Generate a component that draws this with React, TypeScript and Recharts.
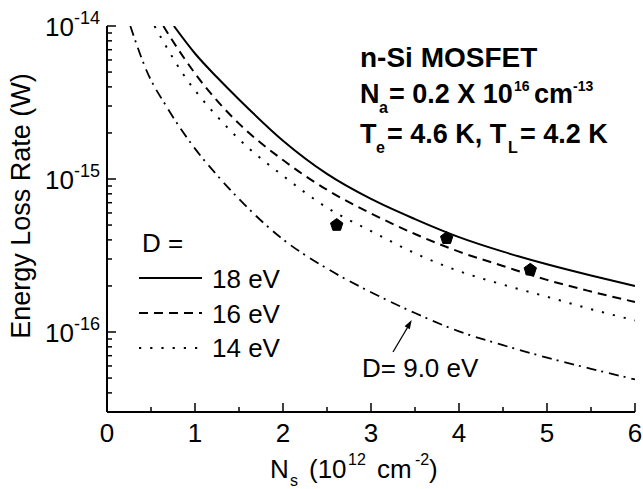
import React from 'react';
import { ComposedChart, Line, Scatter, XAxis, YAxis, Legend } from 'recharts';

const W = 643;
const H = 489;
const FONT = "'Liberation Sans', Arial, Helvetica, sans-serif";

// Axis ticks
const xTicks = [0, 0.5, 1, 1.5, 2, 2.5, 3, 3.5, 4, 4.5, 5, 5.5, 6];
const yTicks = [
  3e-17, 4e-17, 5e-17, 6e-17, 7e-17, 8e-17, 9e-17,
  1e-16, 2e-16, 3e-16, 4e-16, 5e-16, 6e-16, 7e-16, 8e-16, 9e-16,
  1e-15, 2e-15, 3e-15, 4e-15, 5e-15, 6e-15, 7e-15, 8e-15, 9e-15,
  1e-14,
];

// D = 18 eV (solid)
const ns18 = [0.76, 1.0, 1.25, 1.5, 2.0, 2.5, 3.0, 3.5, 4.0, 4.5, 5.0, 5.5, 6.0];
const elr18 = [1e-14, 6.61e-15, 4.62e-15, 3.31e-15, 1.78e-15, 1.08e-15, 7.41e-16, 5.47e-16, 4.17e-16, 3.35e-16, 2.77e-16, 2.34e-16, 2.0e-16];

// D = 16 eV (dashed)
const ns16 = [0.64, 0.74, 1.0, 1.5, 2.0, 2.5, 3.0, 3.5, 4.0, 4.5, 5.0, 5.5, 6.0];
const elr16 = [1e-14, 8.1e-15, 4.9e-15, 2.3e-15, 1.33e-15, 8.5e-16, 5.96e-16, 4.37e-16, 3.35e-16, 2.7e-16, 2.19e-16, 1.84e-16, 1.57e-16];

// D = 14 eV (dotted)
const ns14 = [0.54, 0.7, 0.87, 1.04, 1.25, 1.5, 2.0, 2.5, 3.0, 3.5, 4.0, 4.5, 5.0, 5.5, 6.0];
const elr14 = [1e-14, 6.9e-15, 4.8e-15, 3.55e-15, 2.57e-15, 1.82e-15, 1.05e-15, 6.5e-16, 4.57e-16, 3.27e-16, 2.5e-16, 2.04e-16, 1.7e-16, 1.41e-16, 1.19e-16];

// D = 9.0 eV (dash-dot)
const ns9 = [0.265, 0.45, 0.68, 1.0, 1.25, 1.5, 2.0, 2.5, 3.0, 3.5, 4.0, 4.5, 5.0, 5.5, 6.0];
const elr9 = [1e-14, 5.1e-15, 2.95e-15, 1.58e-15, 1.06e-15, 7.4e-16, 4.03e-16, 2.6e-16, 1.82e-16, 1.33e-16, 1.01e-16, 8.2e-17, 6.8e-17, 5.75e-17, 4.9e-17];

// Experimental points (pentagons)
const markerNs = [2.61, 3.86, 4.81];
const markerElr = [5.0e-16, 4.1e-16, 2.55e-16];

const legendNames = ['18 eV', '16 eV', '14 eV'];

const toData = (xs: number[], ys: number[]) => xs.map((x, i) => ({ x, y: ys[i] }));

const d18 = toData(ns18, elr18);
const d16 = toData(ns16, elr16);
const d14 = toData(ns14, elr14);
const d9 = toData(ns9, elr9);
const dMarkers = toData(markerNs, markerElr);

const DASH16 = '9 6';
const DOT14 = '2.2 9';
const DASHDOT9 = '10 5 2 6';

const isInt = (v: number) => Math.abs(v - Math.round(v)) < 1e-9;
const isDecade = (v: number) => {
  const l = Math.log10(v);
  return Math.abs(l - Math.round(l)) < 1e-6;
};

const BottomTick = (props: any) => {
  const { x, y, payload } = props;
  const v = payload.value as number;
  const major = isInt(v);
  return (
    <g>
      <line x1={x} y1={y} x2={x} y2={y - (major ? 9 : 5)} stroke="#000" strokeWidth={1.5} />
      {major && (
        <text x={x} y={y + 30} textAnchor="middle" fontSize={26} fontFamily={FONT} fill="#000">
          {String(Math.round(v))}
        </text>
      )}
    </g>
  );
};

const TopTick = (props: any) => {
  const { x, y, payload } = props;
  const major = isInt(payload.value);
  return <line x1={x} y1={y} x2={x} y2={y + (major ? 9 : 5)} stroke="#000" strokeWidth={1.5} />;
};

const LeftTick = (props: any) => {
  const { x, y, payload } = props;
  const v = payload.value as number;
  const major = isDecade(v);
  const exp = String(Math.round(Math.log10(v)));
  return (
    <g>
      <line x1={x} y1={y} x2={x + (major ? 9 : 5)} y2={y} stroke="#000" strokeWidth={1.5} />
      {major && (
        <text x={x - 7} y={y + 10} textAnchor="end" fontSize={26} fontFamily={FONT} fill="#000">
          <tspan>10</tspan>
          <tspan fontSize={18} dy={-12}>{exp}</tspan>
        </text>
      )}
    </g>
  );
};

const RightTick = (props: any) => {
  const { x, y, payload } = props;
  const major = isDecade(payload.value);
  return <line x1={x} y1={y} x2={x - (major ? 9 : 5)} y2={y} stroke="#000" strokeWidth={1.5} />;
};

const Pentagon = (props: any) => {
  const { cx, cy } = props;
  if (cx == null || cy == null) return null;
  const r = 6.5;
  const pts = [0, 1, 2, 3, 4]
    .map((i) => {
      const a = -Math.PI / 2 + (i * 2 * Math.PI) / 5;
      return `${cx + r * Math.cos(a)},${cy + r * Math.sin(a)}`;
    })
    .join(' ');
  return <polygon points={pts} fill="#000" stroke="#000" strokeWidth={1} />;
};

const LegendBox = () => {
  const styles = [undefined, DASH16, DOT14];
  const lineYs = [53, 88, 123];
  const textYs = [63, 98, 132];
  return (
    <svg width={180} height={140} style={{ display: 'block', overflow: 'visible' }}>
      <text x={12} y={27} fontSize={26} fontFamily={FONT} fill="#000">D =</text>
      {legendNames.map((n, i) => (
        <g key={n}>
          <line x1={9} y1={lineYs[i]} x2={72} y2={lineYs[i]} stroke="#000" strokeWidth={2} strokeDasharray={styles[i]} />
          <text x={82} y={textYs[i]} fontSize={26} fontFamily={FONT} fill="#000">{n}</text>
        </g>
      ))}
    </svg>
  );
};

export default function App() {
  const sub = 16;
  return (
    <div style={{ position: 'relative', width: W, height: H, background: '#fff' }}>
      <style>{`body{margin:0;background:#fff}`}</style>
      <ComposedChart width={W} height={H} margin={{ top: 26, right: 8, bottom: 0, left: 0 }}>
        <XAxis
          xAxisId="b"
          dataKey="x"
          type="number"
          domain={[0, 6]}
          ticks={xTicks}
          interval={0}
          allowDataOverflow
          height={77}
          tickSize={0}
          tickMargin={0}
          tick={<BottomTick />}
          axisLine={{ stroke: '#000', strokeWidth: 2 }}
          tickLine={false}
        />
        <XAxis
          xAxisId="t"
          orientation="top"
          type="number"
          domain={[0, 6]}
          ticks={xTicks}
          interval={0}
          allowDataOverflow
          height={0}
          tickSize={0}
          tickMargin={0}
          tick={<TopTick />}
          axisLine={{ stroke: '#000', strokeWidth: 2 }}
          tickLine={false}
        />
        <YAxis
          yAxisId="l"
          dataKey="y"
          type="number"
          scale="log"
          domain={[3e-17, 1e-14]}
          ticks={yTicks}
          interval={0}
          allowDataOverflow
          width={107}
          tickSize={0}
          tickMargin={0}
          tick={<LeftTick />}
          axisLine={{ stroke: '#000', strokeWidth: 2 }}
          tickLine={false}
        />
        <YAxis
          yAxisId="r"
          orientation="right"
          type="number"
          scale="log"
          domain={[3e-17, 1e-14]}
          ticks={yTicks}
          interval={0}
          allowDataOverflow
          width={0}
          tickSize={0}
          tickMargin={0}
          tick={<RightTick />}
          axisLine={{ stroke: '#000', strokeWidth: 2 }}
          tickLine={false}
        />
        <Legend
          layout="vertical"
          align="center"
          verticalAlign="middle"
          content={<LegendBox />}
          wrapperStyle={{ left: 130, top: 225, width: 180, height: 140 }}
        />
        <Line xAxisId="b" yAxisId="l" data={d18} dataKey="y" type="monotone" stroke="#000" strokeWidth={2} dot={false} isAnimationActive={false} name="18 eV" />
        <Line xAxisId="b" yAxisId="l" data={d16} dataKey="y" type="monotone" stroke="#000" strokeWidth={2} strokeDasharray={DASH16} dot={false} isAnimationActive={false} name="16 eV" />
        <Line xAxisId="b" yAxisId="l" data={d14} dataKey="y" type="monotone" stroke="#000" strokeWidth={2} strokeDasharray={DOT14} dot={false} isAnimationActive={false} name="14 eV" />
        <Line xAxisId="b" yAxisId="l" data={d9} dataKey="y" type="monotone" stroke="#000" strokeWidth={1.8} strokeDasharray={DASHDOT9} dot={false} isAnimationActive={false} name="9.0 eV" />
        <Scatter xAxisId="b" yAxisId="l" data={dMarkers} dataKey="y" shape={<Pentagon />} isAnimationActive={false} />
      </ComposedChart>
      <svg
        width={W}
        height={H}
        style={{ position: 'absolute', left: 0, top: 0, pointerEvents: 'none', overflow: 'visible' }}
      >
        <g fontFamily={FONT} fill="#000" fontWeight="bold" style={{ whiteSpace: 'pre' }}>
          <text x={360} y={67} fontSize={28}>n-Si MOSFET</text>
          <text y={103} fontSize={27}>
            <tspan x={360}>N</tspan>
            <tspan x={379} dy={10} fontSize={sub}>a</tspan>
            <tspan x={389} dy={-10}>= 0.2 X 10</tspan>
            <tspan x={514} dy={-12} fontSize={14}>16</tspan>
            <tspan x={534} dy={12}>cm</tspan>
            <tspan x={573} dy={-12} fontSize={14}>-13</tspan>
          </text>
          <text y={143} fontSize={27}>
            <tspan x={360}>T</tspan>
            <tspan x={376} dy={10} fontSize={sub}>e</tspan>
            <tspan x={387} dy={-10}>= 4.6 K, T</tspan>
            <tspan x={508} dy={10} fontSize={sub}>L</tspan>
            <tspan x={520} dy={-10}>= 4.2 K</tspan>
          </text>
        </g>
        <g fontFamily={FONT} fill="#000" style={{ whiteSpace: 'pre' }}>
          <text x={362} y={377} fontSize={26}>D= 9.0 eV</text>
          <line x1={393} y1={352} x2={407.5} y2={327.5} stroke="#000" strokeWidth={1.3} />
          <polygon points="411.7,320 409.8,329.3 404.6,326.3" fill="#000" />
          <text y={478} fontSize={26}>
            <tspan x={270}>N</tspan>
            <tspan x={290} dy={8} fontSize={sub}>s</tspan>
            <tspan x={309} dy={-8}>(10</tspan>
            <tspan x={348} dy={-13} fontSize={sub}>12</tspan>
            <tspan x={377} dy={13}>cm</tspan>
            <tspan x={415} dy={-13} fontSize={sub}>-2</tspan>
            <tspan x={429} dy={13}>)</tspan>
          </text>
          <text x={30} y={206} fontSize={27} textAnchor="middle" transform="rotate(-90 30 206)">
            Energy Loss Rate  (W)
          </text>
        </g>
      </svg>
    </div>
  );
}
